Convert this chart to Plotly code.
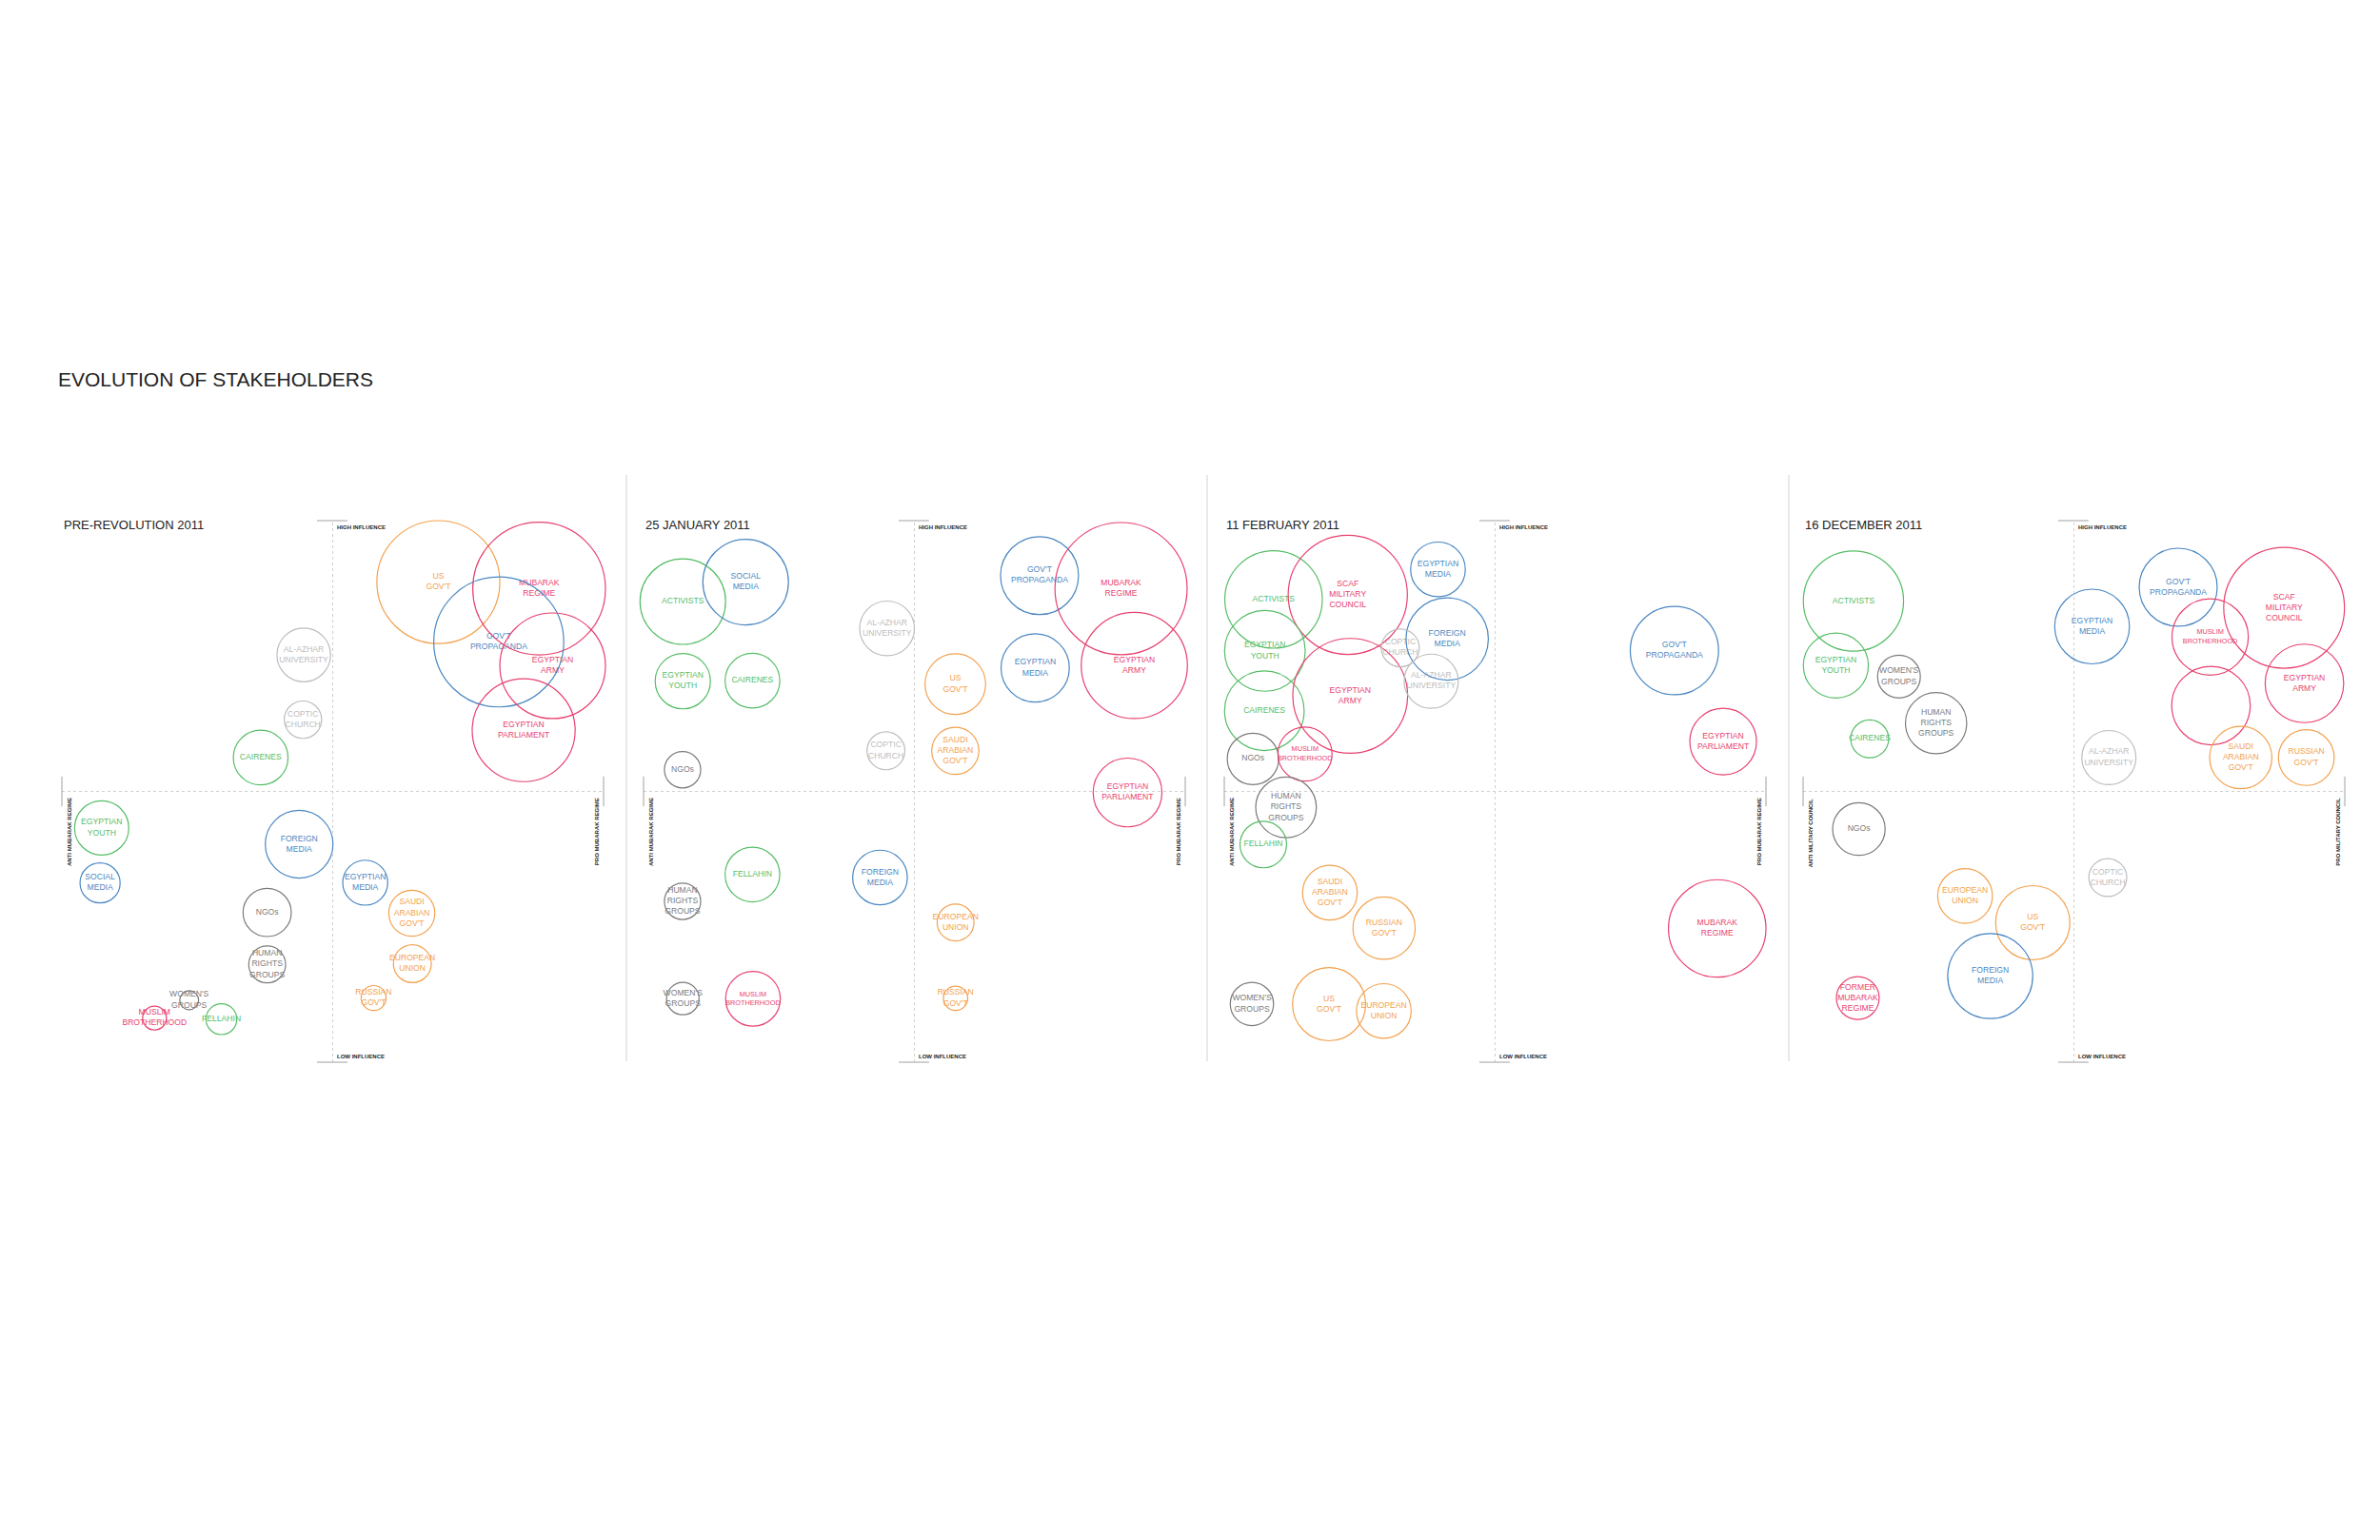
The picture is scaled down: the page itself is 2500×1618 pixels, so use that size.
import plotly.graph_objects as go

# ---------------- DATA ----------------
TITLE = "EVOLUTION OF STAKEHOLDERS"
panel_titles = ["PRE-REVOLUTION 2011", "25 JANUARY 2011", "11 FEBRUARY 2011", "16 DECEMBER 2011"]
left_axis_labels = ["ANTI MUBARAK REGIME", "ANTI MUBARAK REGIME", "ANTI MUBARAK REGIME", "ANTI MILITARY COUNCIL"]
right_axis_labels = ["PRO MUBARAK REGIME", "PRO MUBARAK REGIME", "PRO MUBARAK REGIME", "PRO MILITARY COUNCIL"]
top_axis_label = "HIGH INFLUENCE"
bottom_axis_label = "LOW INFLUENCE"

# stance: -100 (anti) .. 100 (pro); influence: -100 (low) .. 100 (high); weight = circle radius
p1_labels = ["AL-AZHAR<br>UNIVERSITY", "COPTIC<br>CHURCH", "CAIRENES", "EGYPTIAN<br>YOUTH", "SOCIAL<br>MEDIA",
             "FOREIGN<br>MEDIA", "NGOs", "HUMAN<br>RIGHTS<br>GROUPS", "WOMEN'S<br>GROUPS", "MUSLIM<br>BROTHERHOOD",
             "FELLAHIN", "US<br>GOV'T", "MUBARAK<br>REGIME", "GOV'T<br>PROPAGANDA", "EGYPTIAN<br>ARMY",
             "EGYPTIAN<br>PARLIAMENT", "EGYPTIAN<br>MEDIA", "SAUDI<br>ARABIAN<br>GOV'T", "EUROPEAN<br>UNION", "RUSSIAN<br>GOV'T"]
p1_stance = [-10.7, -11.0, -26.6, -85.3, -85.9, -12.4, -24.2, -24.2, -53.0, -65.8,
             -41.1, 39.0, 76.2, 61.3, 81.2, 70.5, 12.0, 29.2, 29.4, 15.1]
p1_influence = [50.4, 26.5, 12.5, -13.5, -33.8, -19.5, -44.7, -63.9, -77.1, -83.7,
                -84.1, 77.3, 74.9, 55.2, 46.4, 22.6, -33.7, -45.0, -63.6, -76.3]
p1_weight = [9.9, 6.9, 10.1, 10.0, 7.4, 12.5, 8.9, 6.8, 3.5, 4.4,
             5.7, 22.7, 24.5, 24.0, 19.5, 19.0, 8.3, 8.5, 7.0, 4.6]
p1_group = ["religious", "religious", "people", "people", "media", "media", "civil", "civil", "civil", "regime",
            "people", "foreign", "regime", "media", "regime", "regime", "media", "foreign", "foreign", "foreign"]

p2_labels = ["ACTIVISTS", "SOCIAL<br>MEDIA", "EGYPTIAN<br>YOUTH", "CAIRENES", "NGOs", "AL-AZHAR<br>UNIVERSITY",
             "COPTIC<br>CHURCH", "FELLAHIN", "HUMAN<br>RIGHTS<br>GROUPS", "FOREIGN<br>MEDIA", "WOMEN'S<br>GROUPS",
             "MUSLIM<br>BROTHERHOOD", "GOV'T<br>PROPAGANDA", "MUBARAK<br>REGIME", "EGYPTIAN<br>MEDIA", "EGYPTIAN<br>ARMY",
             "US<br>GOV'T", "SAUDI<br>ARABIAN<br>GOV'T", "EGYPTIAN<br>PARLIAMENT", "EUROPEAN<br>UNION", "RUSSIAN<br>GOV'T"]
p2_stance = [-85.5, -62.3, -85.5, -59.8, -85.6, -10.1, -10.5, -59.8, -85.6, -12.7, -85.5,
             -59.6, 46.2, 76.3, 44.6, 81.2, 15.1, 15.1, 78.7, 15.2, 15.2]
p2_influence = [70.1, 77.3, 40.7, 40.9, 8.0, 60.2, 15.0, -30.7, -40.6, -31.8, -76.5,
                -76.6, 79.7, 74.9, 45.6, 46.5, 39.6, 15.0, -0.4, -48.4, -76.4]
p2_weight = [15.8, 15.8, 10.2, 10.1, 6.7, 10.1, 7.0, 10.1, 6.7, 10.1, 6.0,
             10.1, 14.4, 24.4, 12.6, 19.6, 11.2, 8.7, 12.7, 6.8, 4.5]
p2_group = ["people", "media", "people", "people", "civil", "religious", "religious", "people", "civil", "media", "civil",
            "regime", "media", "regime", "media", "regime", "foreign", "foreign", "regime", "foreign", "foreign"]

p3_labels = ["ACTIVISTS", "SCAF<br>MILITARY<br>COUNCIL", "EGYPTIAN<br>YOUTH", "CAIRENES", "EGYPTIAN<br>ARMY", "NGOs",
             "MUSLIM<br>BROTHERHOOD", "HUMAN<br>RIGHTS<br>GROUPS", "FELLAHIN", "EGYPTIAN<br>MEDIA", "FOREIGN<br>MEDIA",
             "COPTIC<br>CHURCH", "AL-AZHAR<br>UNIVERSITY", "SAUDI<br>ARABIAN<br>GOV'T", "RUSSIAN<br>GOV'T",
             "WOMEN'S<br>GROUPS", "US<br>GOV'T", "EUROPEAN<br>UNION", "GOV'T<br>PROPAGANDA", "EGYPTIAN<br>PARLIAMENT",
             "MUBARAK<br>REGIME"]
p3_stance = [-81.8, -54.4, -85.0, -85.2, -53.5, -89.4, -70.2, -77.2, -85.6, -21.1, -17.7,
             -35.0, -23.6, -61.0, -41.0, -89.8, -61.3, -41.1, 66.2, 84.2, 82.0]
p3_influence = [70.9, 72.6, 51.9, 29.8, 35.3, 12.0, 13.8, -5.9, -19.6, 82.0, 56.3,
                53.0, 40.7, -37.4, -50.5, -78.5, -78.6, -81.1, 52.0, 18.4, -50.6]
p3_weight = [18.0, 22.0, 14.9, 14.7, 21.2, 9.5, 10.0, 11.2, 8.6, 10.1, 15.2,
             7.0, 10.0, 10.1, 11.5, 8.0, 13.5, 10.1, 16.3, 12.3, 18.0]
p3_group = ["people", "regime", "people", "people", "regime", "civil", "regime", "civil", "people", "media", "media",
            "religious", "religious", "foreign", "foreign", "civil", "foreign", "foreign", "media", "regime", "regime"]

p4_labels = ["ACTIVISTS", "EGYPTIAN<br>YOUTH", "WOMEN'S<br>GROUPS", "HUMAN<br>RIGHTS<br>GROUPS", "CAIRENES", "NGOs",
             "EUROPEAN<br>UNION", "US<br>GOV'T", "FOREIGN<br>MEDIA", "FORMER<br>MUBARAK<br>REGIME", "EGYPTIAN<br>MEDIA",
             "GOV'T<br>PROPAGANDA", "SCAF<br>MILITARY<br>COUNCIL", "MUSLIM<br>BROTHERHOOD", "", "EGYPTIAN<br>ARMY",
             "SAUDI<br>ARABIAN<br>GOV'T", "RUSSIAN<br>GOV'T", "AL-AZHAR<br>UNIVERSITY", "COPTIC<br>CHURCH"]
p4_stance = [-81.4, -87.9, -64.6, -50.9, -75.4, -79.4, -40.2, -15.2, -30.9, -79.8, 6.7,
             38.5, 77.6, 50.3, 50.6, 85.1, 61.6, 85.8, 12.9, 12.5]
p4_influence = [70.3, 46.5, 42.4, 25.2, 19.4, -13.9, -38.6, -48.5, -68.2, -76.3, 60.9,
                75.4, 67.8, 57.0, 31.7, 39.9, 12.5, 12.5, 12.5, -31.8]
p4_weight = [18.5, 12.0, 7.9, 11.3, 7.0, 9.7, 10.1, 13.7, 15.7, 7.9, 13.8,
             14.4, 22.3, 14.1, 14.5, 14.5, 11.5, 10.3, 10.0, 7.0]
p4_group = ["people", "people", "civil", "civil", "people", "civil", "foreign", "foreign", "media", "regime", "media",
            "media", "regime", "regime", "regime", "regime", "foreign", "foreign", "religious", "religious"]

# ---------------- STYLE ----------------
colors = {
    "people": "#56bd66",
    "media": "#4a87c2",
    "regime": "#e8416f",
    "foreign": "#f3a14e",
    "civil": "#7b7b7b",
    "religious": "#bdbdbd",
}
FONT = "Liberation Sans, Arial, Helvetica, sans-serif"
W, H = 2500, 1618
frame_left = [65, 676, 1286, 1894]   # px, left edge of each square frame
frame_w = 569
frame_top, frame_bot = 547, 1116
PAD = 1.1  # axis range +-110 so edge circles are not clipped

panels = [
    (p1_labels, p1_stance, p1_influence, p1_weight, p1_group),
    (p2_labels, p2_stance, p2_influence, p2_weight, p2_group),
    (p3_labels, p3_stance, p3_influence, p3_weight, p3_group),
    (p4_labels, p4_stance, p4_influence, p4_weight, p4_group),
]

fig = go.Figure()
shapes = []
annotations = []
layout_axes = {}

fh = frame_bot - frame_top
yc = (frame_top + frame_bot) / 2
y_dom = [1 - (yc + PAD * fh / 2) / H, 1 - (yc - PAD * fh / 2) / H]

for i, (labels, sx, sy, sr, sg) in enumerate(panels):
    n = i + 1
    xa = "x" if n == 1 else f"x{n}"
    ya = "y" if n == 1 else f"y{n}"
    xc = frame_left[i] + frame_w / 2
    x_dom = [(xc - PAD * frame_w / 2) / W, (xc + PAD * frame_w / 2) / W]
    layout_axes["xaxis" if n == 1 else f"xaxis{n}"] = dict(
        domain=x_dom, range=[-110, 110], visible=False, fixedrange=True, anchor=ya)
    layout_axes["yaxis" if n == 1 else f"yaxis{n}"] = dict(
        domain=y_dom, range=[-110, 110], visible=False, fixedrange=True, anchor=xa)

    # dashed quadrant axes
    shapes.append(dict(type="line", xref=xa, yref=ya, x0=0, x1=0, y0=-100, y1=100,
                       line=dict(color="#d0d0d0", width=1, dash="3px,3px")))
    shapes.append(dict(type="line", xref=xa, yref=ya, x0=-100, x1=100, y0=0, y1=0,
                       line=dict(color="#d0d0d0", width=1, dash="3px,3px")))
    # end caps
    for yy in (100, -100):
        shapes.append(dict(type="line", xref=xa, yref=ya, x0=-5.8, x1=5.4, y0=yy, y1=yy,
                           line=dict(color="#a0a0a0", width=1)))
    for xx in (-100, 100):
        shapes.append(dict(type="line", xref=xa, yref=ya, x0=xx, x1=xx, y0=-5.5, y1=5.5,
                           line=dict(color="#a0a0a0", width=1)))

    # stakeholder circles
    for x, y, r, g in zip(sx, sy, sr, sg):
        shapes.append(dict(type="circle", xref=xa, yref=ya, x0=x - r, x1=x + r, y0=y - r, y1=y + r,
                           line=dict(color=colors[g], width=1.2), fillcolor="rgba(0,0,0,0)"))

    # labels
    sizes = [7.3 if (lab == "MUSLIM<br>BROTHERHOOD" and i > 0) else 8.6 for lab in labels]
    fig.add_trace(go.Scatter(
        x=sx, y=sy, text=labels, mode="text", xaxis=xa, yaxis=ya,
        textposition="middle center",
        textfont=dict(family=FONT, size=sizes, color=[colors[g] for g in sg]),
        hoverinfo="skip", showlegend=False))

    # panel title
    annotations.append(dict(xref=xa, yref=ya, x=-100, y=98.3, text=panel_titles[i], showarrow=False,
                            xanchor="left", yanchor="middle",
                            font=dict(family=FONT, size=13, color="#222")))
    # axis labels
    annotations.append(dict(xref=xa, yref=ya, x=0.8, y=97.5, text=top_axis_label, showarrow=False,
                            xanchor="left", yanchor="middle",
                            font=dict(family=FONT, size=6, color="#222", weight="bold")))
    annotations.append(dict(xref=xa, yref=ya, x=0.8, y=-97.9, text=bottom_axis_label, showarrow=False,
                            xanchor="left", yanchor="middle",
                            font=dict(family=FONT, size=6, color="#222", weight="bold")))
    annotations.append(dict(xref=xa, yref=ya, x=-97.2, y=-1.6, text=left_axis_labels[i], showarrow=False,
                            textangle=-90, xanchor="center", yanchor="top",
                            font=dict(family=FONT, size=6, color="#222", weight="bold")))
    annotations.append(dict(xref=xa, yref=ya, x=97.4, y=-1.6, text=right_axis_labels[i], showarrow=False,
                            textangle=-90, xanchor="center", yanchor="top",
                            font=dict(family=FONT, size=6, color="#222", weight="bold")))

# panel separators
for sep_px in (658, 1268, 1879):
    shapes.append(dict(type="line", xref="paper", yref="paper", x0=sep_px / W, x1=sep_px / W,
                       y0=1 - 1115 / H, y1=1 - 499 / H, line=dict(color="#e2e2e2", width=1.5)))

annotations.append(dict(xref="paper", yref="paper", x=59 / W, y=1 - 398 / H, text=TITLE, showarrow=False,
                        xanchor="left", yanchor="middle",
                        font=dict(family=FONT, size=21, color="#222")))

fig.update_layout(
    width=W, height=H, margin=dict(l=0, r=0, t=0, b=0),
    paper_bgcolor="white", plot_bgcolor="rgba(0,0,0,0)",
    shapes=shapes, annotations=annotations, showlegend=False,
    **layout_axes,
)

fig.write_html("out.html", config={"displayModeBar": False},
               post_script="document.body.style.margin='0px';")
